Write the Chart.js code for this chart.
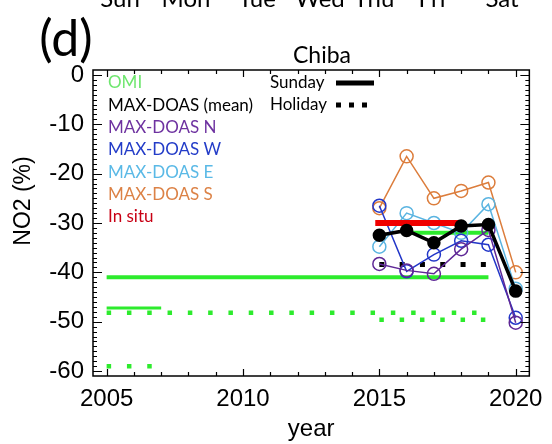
<!DOCTYPE html>
<html>
<head>
  <meta charset="utf-8" />
  <title>Chiba NO2 weekly cycle</title>
  <script src="https://cdn.jsdelivr.net/npm/chart.js"></script>
  <style>
    body { margin: 0; background: #fff; }
    #wrap { width: 552px; height: 444px; }
  </style>
</head>
<body>
  <div id="wrap"><canvas id="no2Chart"></canvas></div>

  <script>
    // MAX-DOAS Sunday change (%), per year
    const years = [2015, 2016, 2017, 2018, 2019, 2020];
    const meanSun = [-32.5, -31.5, -34.0, -30.6, -30.3, -43.8];
    const northSun = [-38.3, -39.6, -40.3, -35.3, -31.4, -50.2];
    const westSun = [-26.5, -39.8, -36.4, -33.6, -34.4, -49.2];
    const eastSun = [-34.8, -28.0, -30.0, -32.0, -26.2, -43.3];
    const southSun = [-27.0, -16.5, -25.0, -23.5, -21.8, -40.0];

    // flat period averages: [start year, end year] and value
    const omiSunLongSpan = [2005, 2019];   const omiSunLong = -41.0;
    const omiSunEarlySpan = [2005, 2007];  const omiSunEarly = -47.2;
    const omiSunLateSpan = [2016, 2019];   const omiSunLate = -32.0;
    const omiHolLongSpan = [2005, 2019];   const omiHolLong = -48.2;
    const omiHolLateSpan = [2015, 2019];   const omiHolLate = -49.6;
    const omiHolEarlySpan = [2005, 2007];  const omiHolEarly = -59.0;
    const doasHolSpan = [2015, 2019];      const doasHol = -38.4;
    const inSituSpan = [2014.85, 2017.9];  const inSitu = -30.0;

    const xTicks = [2005, 2010, 2015, 2020];
    const yTicks = [0, -10, -20, -30, -40, -50, -60];

    const weekdays = ['Sun', 'Mon', 'Tue', 'Wed', 'Thu', 'Fri', 'Sat'];
    const legendNames = ['OMI', 'MAX-DOAS (mean)', 'MAX-DOAS N', 'MAX-DOAS W', 'MAX-DOAS E', 'MAX-DOAS S', 'In situ'];

    const GREEN = 'rgb(45,235,45)';
    const PURPLE = 'rgb(95,40,150)';
    const BLUE = 'rgb(35,55,200)';
    const LBLUE = 'rgb(90,180,225)';
    const ORANGE = 'rgb(220,125,60)';
    const RED = 'rgb(240,0,0)';
    const legendColors = ['rgb(110,230,110)', '#000', 'rgb(110,50,160)', 'rgb(35,60,200)', 'rgb(90,185,230)', 'rgb(220,130,70)', 'rgb(200,0,20)'];

    function pts(xs, ys) {
      return xs.map((x, i) => ({ x: x, y: ys[i] }));
    }
    function flat(span, v) {
      return [{ x: span[0], y: v }, { x: span[1], y: v }];
    }

    function circleSet(label, ys, color) {
      return {
        label: label,
        data: pts(years, ys),
        borderColor: color,
        backgroundColor: 'rgba(0,0,0,0)',
        borderWidth: 1.5,
        pointRadius: 6.5,
        pointBorderWidth: 1.5,
        pointBorderColor: color,
        pointBackgroundColor: 'rgba(0,0,0,0)',
        order: 5
      };
    }
    function flatSet(label, span, v, color, width, dash, order) {
      return {
        label: label,
        data: flat(span, v),
        borderColor: color,
        borderWidth: width,
        borderDash: dash || [],
        borderCapStyle: 'butt',
        pointRadius: 0,
        order: order
      };
    }

    // frame with inward ticks on all four sides, and the free text
    const framePlugin = {
      id: 'frame',
      afterDatasetsDraw(chart) {
        const { ctx, chartArea: a, scales } = chart;
        const xs = scales.x, ys = scales.y;
        ctx.save();
        ctx.strokeStyle = '#000';
        ctx.lineWidth = 1.5;
        ctx.strokeRect(a.left, a.top, a.right - a.left, a.bottom - a.top);
        ctx.lineWidth = 1.2;
        ctx.beginPath();
        for (let v = -60; v <= 0; v++) {
          const y = Math.round(ys.getPixelForValue(v)) + 0.5;
          const len = v % 10 === 0 ? 9 : 4;
          ctx.moveTo(a.left, y); ctx.lineTo(a.left + len, y);
          ctx.moveTo(a.right, y); ctx.lineTo(a.right - len, y);
        }
        for (let v = 2005; v <= 2020; v++) {
          const x = Math.round(xs.getPixelForValue(v)) + 0.5;
          const len = v % 5 === 0 ? 7 : 4;
          ctx.moveTo(x, a.bottom); ctx.lineTo(x, a.bottom - len);
          ctx.moveTo(x, a.top); ctx.lineTo(x, a.top + len);
        }
        ctx.stroke();
        ctx.restore();
      },
      afterDraw(chart) {
        const { ctx, chartArea: a } = chart;
        ctx.save();
        ctx.fillStyle = '#000';

        // cut-off weekday row from the panel above
        ctx.font = '24px Lato';
        ctx.textBaseline = 'alphabetic';
        ctx.textAlign = 'center';
        const dayX = [120, 186, 257, 320, 374, 432, 502];
        weekdays.forEach((d, i) => ctx.fillText(d, dayX[i], 7));

        ctx.font = '50px Lato';
        ctx.textBaseline = 'middle';
        ctx.fillText('(d)', 66, 40);

        ctx.font = '23px Lato';
        ctx.fillText('Chiba', 322, 56);

        // axis titles
        ctx.font = '24px "Liberation Sans"';
        ctx.fillText('year', (a.left + a.right) / 2, 429);
        ctx.save();
        ctx.translate(24, 201);
        ctx.rotate(-Math.PI / 2);
        ctx.font = '23px "Liberation Sans"';
        ctx.fillText('NO2 (%)', 0, 0);
        ctx.restore();

        // legend
        ctx.font = '17px Lato';
        ctx.textAlign = 'left';
        legendNames.forEach((n, i) => {
          ctx.fillStyle = legendColors[i];
          ctx.fillText(n, 108, 83 + i * 22.3);
        });
        ctx.fillStyle = '#000';
        ctx.fillText('Sunday', 270, 83);
        ctx.fillText('Holiday', 270, 105);
        ctx.strokeStyle = '#000';
        ctx.lineCap = 'butt';
        ctx.lineWidth = 5;
        ctx.beginPath();
        ctx.moveTo(336, 83); ctx.lineTo(374, 83);
        ctx.stroke();
        ctx.setLineDash([5, 8]);
        ctx.beginPath();
        ctx.moveTo(336, 105); ctx.lineTo(374, 105);
        ctx.stroke();
        ctx.restore();
      }
    };

    const ctx = document.getElementById('no2Chart').getContext('2d');
    const no2Chart = new Chart(ctx, {
      type: 'line',
      data: {
        datasets: [
          flatSet('OMI Sunday', omiSunLongSpan, omiSunLong, GREEN, 4, null, 20),
          flatSet('OMI Sunday early', omiSunEarlySpan, omiSunEarly, GREEN, 3, null, 20),
          flatSet('OMI Sunday late', omiSunLateSpan, omiSunLate, GREEN, 4, null, 20),
          flatSet('OMI Holiday', omiHolLongSpan, omiHolLong, GREEN, 4.5, [4.5, 15.8], 20),
          flatSet('OMI Holiday late', omiHolLateSpan, omiHolLate, GREEN, 4.5, [4.5, 15.8], 20),
          flatSet('OMI Holiday early', omiHolEarlySpan, omiHolEarly, GREEN, 4.5, [4.5, 15.8], 20),
          flatSet('MAX-DOAS Holiday', doasHolSpan, doasHol, '#000', 5, [5, 15.3], 10),
          circleSet('MAX-DOAS N', northSun, PURPLE),
          circleSet('MAX-DOAS W', westSun, BLUE),
          circleSet('MAX-DOAS E', eastSun, LBLUE),
          circleSet('MAX-DOAS S', southSun, ORANGE),
          flatSet('In situ', inSituSpan, inSitu, RED, 6, null, 2),
          {
            label: 'MAX-DOAS (mean)',
            data: pts(years, meanSun),
            borderColor: '#000',
            backgroundColor: '#000',
            borderWidth: 3.5,
            pointRadius: 5,
            pointBackgroundColor: '#000',
            pointBorderColor: '#000',
            order: 1
          }
        ]
      },
      options: {
        responsive: true,
        maintainAspectRatio: false,
        animation: false,
        layout: {
          padding: { left: 0, right: 19, top: 70, bottom: 0 }
        },
        plugins: {
          legend: { display: false },
          tooltip: { enabled: false }
        },
        scales: {
          x: {
            type: 'linear',
            min: 2004.5,
            max: 2020.5,
            grid: { display: false, drawTicks: false },
            border: { display: false },
            afterBuildTicks: (s) => { s.ticks = xTicks.map(v => ({ value: v })); },
            afterFit: (s) => { s.height = 68; },
            ticks: {
              padding: 9,
              color: '#000',
              font: { family: 'Liberation Sans', size: 24 },
              callback: (v) => String(v)
            }
          },
          y: {
            type: 'linear',
            min: -61,
            max: 1,
            grid: { display: false, drawTicks: false },
            border: { display: false },
            afterBuildTicks: (s) => { s.ticks = yTicks.map(v => ({ value: v })); },
            afterFit: (s) => { s.width = 93; },
            ticks: {
              padding: 9,
              color: '#000',
              font: { family: 'Liberation Sans', size: 24 },
              callback: (v) => String(v)
            }
          }
        }
      },
      plugins: [framePlugin]
    });
  </script>
</body>
</html>
